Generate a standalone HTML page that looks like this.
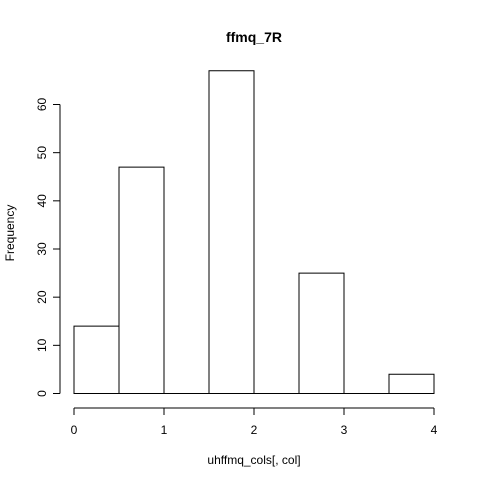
<!DOCTYPE html>
<html><head><meta charset="utf-8"><style>
html,body{margin:0;padding:0;background:#fff;}
svg text{font-family:"Liberation Sans",Arial,sans-serif;fill:#000;}
</style></head><body>
<svg id="chart" width="480" height="480" viewBox="0 0 480 480">
<rect width="480" height="480" fill="#fff"/>
<text x="254" y="42" font-size="14" font-weight="bold" text-anchor="middle">ffmq_7R</text>
<text x="254" y="464" font-size="12" text-anchor="middle">uhffmq_cols[, col]</text>
<text transform="translate(14,233) rotate(-90)" font-size="12" text-anchor="middle">Frequency</text>
<g id="bars"></g><g id="xaxis"></g><g id="yaxis"></g>
</svg>
<script>
const binStarts = [0, 0.5, 1, 1.5, 2, 2.5, 3, 3.5];
const counts = [14, 47, 0, 67, 0, 25, 0, 4];
const xTicks = [0, 1, 2, 3, 4];
const yTicks = [0, 10, 20, 30, 40, 50, 60];
const binWidth = 0.5;
const NS = "http://www.w3.org/2000/svg";
function sx(v){return 74 + v*90;}
function sy(v){return 393.5 - v*(289/60);}
function mk(tag, attrs, parent){const e=document.createElementNS(NS,tag);for(const k in attrs)e.setAttribute(k,attrs[k]);parent.appendChild(e);return e;}
const bars=document.getElementById('bars');
binStarts.forEach((b,i)=>{
  const x0=sx(b), x1=sx(b+binWidth), y=sy(counts[i]), y0=sy(0);
  const r=mk('path',{d:`M${x0},${y0}L${x1},${y0}L${x1},${y}L${x0},${y}Z`,fill:'none',stroke:'#000','stroke-width':1},bars);
  
  
});
const xa=document.getElementById('xaxis');
const xl=mk('line',{x1:sx(xTicks[0]),x2:sx(xTicks[xTicks.length-1]),y1:408,y2:408,stroke:'#000'},xa);


xTicks.forEach(t=>{
  mk('line',{x1:sx(t),x2:sx(t),y1:408,y2:415,stroke:'#000'},xa);
  const tx=mk('text',{x:sx(t),y:434,'font-size':12,'text-anchor':'middle'},xa);
  tx.textContent=t;
  
  
});
const ya=document.getElementById('yaxis');
const yl=mk('line',{x1:60,x2:60,y1:sy(yTicks[0]),y2:sy(yTicks[yTicks.length-1]),stroke:'#000'},ya);


yTicks.forEach(t=>{
  mk('line',{x1:53,x2:60,y1:sy(t),y2:sy(t),stroke:'#000'},ya);
  const tx=mk('text',{transform:`translate(46,${sy(t)}) rotate(-90)`,'font-size':12,'text-anchor':'middle'},ya);
  tx.textContent=t;
  
  
});
</script>
</body></html>
